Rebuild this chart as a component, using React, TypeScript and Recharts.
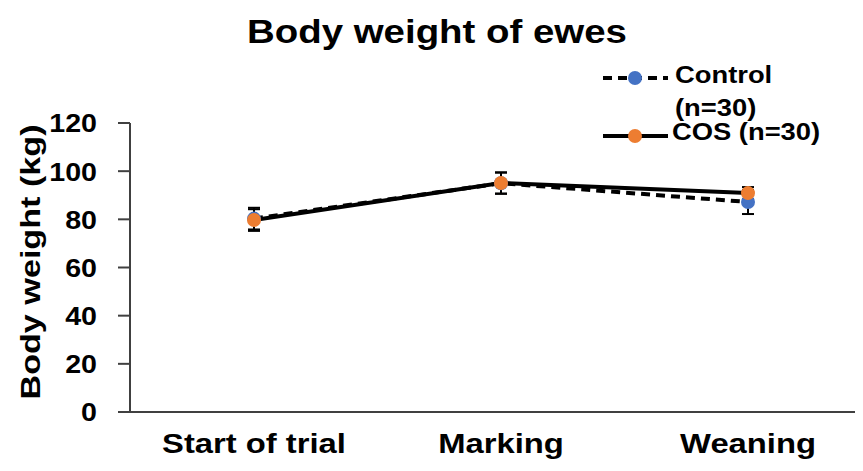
import { ErrorBar, Legend, Line, LineChart, XAxis, YAxis } from "recharts";

const categories = ["Start of trial", "Marking", "Weaning"];
const controlValues = [80.3, 95, 87.2];
const controlErrors = [4.5, 4.4, 5];
const cosValues = [79.7, 95.1, 90.9];
const cosErrors = [4.5, 4.4, 2.5];
const yTicks = [0, 20, 40, 60, 80, 100, 120];
const seriesNames = ["Control (n=30)", "COS (n=30)"];
const legendLabels = [["Control", "(n=30)"], ["COS (n=30)"]];

const data = categories.map((name, i) => ({
  name,
  control: controlValues[i],
  controlErr: controlErrors[i],
  cos: cosValues[i],
  cosErr: cosErrors[i],
}));

const FONT = "'Liberation Sans', Arial, sans-serif";

function XTick(props: any) {
  const { x, y, payload } = props;
  return (
    <text
      transform={`translate(${x},${y + 41}) scale(1.17,1)`}
      textAnchor="middle"
      fontFamily={FONT}
      fontWeight="bold"
      fontSize={28}
      fill="#000"
    >
      {payload.value}
    </text>
  );
}

function YTick(props: any) {
  const { x, y, payload } = props;
  return (
    <text
      transform={`translate(${x},${y}) scale(1.1,1)`}
      textAnchor="end"
      dy="0.36em"
      fontFamily={FONT}
      fontWeight="bold"
      fontSize={26}
      fill="#000"
    >
      {payload.value}
    </text>
  );
}

function YLabel() {
  return (
    <text
      transform="translate(40,262) rotate(-90) scale(1.22,1)"
      textAnchor="middle"
      fontFamily={FONT}
      fontWeight="bold"
      fontSize={28}
      fill="#000"
    >
      Body weight (kg)
    </text>
  );
}

function LegendContent(props: any) {
  const items = props.payload || [];
  const rows = [
    { lineY: 20, textY: [25, 58] },
    { lineY: 78, textY: [82] },
  ];
  return (
    <svg width={270} height={100} style={{ display: "block" }}>
      {items.map((item: any) => {
        const i = seriesNames.indexOf(item.value);
        const row = rows[i];
        if (!row) return null;
        const color = item.payload?.dot?.fill ?? item.color;
        return (
          <g key={item.value}>
            <line
              x1={13}
              x2={78}
              y1={row.lineY}
              y2={row.lineY}
              stroke="#000"
              strokeWidth={4}
              strokeDasharray={item.payload?.strokeDasharray}
            />
            <circle cx={45} cy={row.lineY} r={7} fill={color} />
            {legendLabels[i].map((t, j) => (
              <text
                key={j}
                transform={`translate(${i === 0 ? 85 : 82},${row.textY[j]}) scale(1.14,1)`}
                fontFamily={FONT}
                fontWeight="bold"
                fontSize={24}
                fill="#000"
              >
                {t}
              </text>
            ))}
          </g>
        );
      })}
    </svg>
  );
}

export default function App() {
  return (
    <div
      style={{
        position: "relative",
        width: 863,
        height: 471,
        margin: -8,
        overflow: "hidden",
        background: "#fff",
      }}
    >
      <div
        style={{
          position: "absolute",
          left: 0,
          width: 874,
          top: 13,
          textAlign: "center",
          fontFamily: FONT,
          fontWeight: "bold",
          fontSize: 34,
          lineHeight: "36px",
          transform: "scaleX(1.13)",
          color: "#000",
        }}
      >
        Body weight of ewes
      </div>
      <LineChart
        width={880}
        height={471}
        data={data}
        margin={{ top: 123, right: 8, bottom: 0, left: 0 }}
        style={{ position: "absolute", left: 0, top: 0 }}
      >
        <XAxis
          dataKey="name"
          height={59}
          padding={{ left: 124, right: 124 }}
          tickLine={false}
          tickSize={0}
          tickMargin={0}
          axisLine={{ stroke: "#404040", strokeWidth: 2 }}
          tick={<XTick />}
          interval={0}
        />
        <YAxis
          width={130}
          domain={[0, 120]}
          ticks={yTicks}
          tickSize={12}
          tickMargin={21}
          axisLine={{ stroke: "#404040", strokeWidth: 2 }}
          tickLine={{ stroke: "#404040", strokeWidth: 2 }}
          tick={<YTick />}
          label={<YLabel />}
        />
        <Legend
          layout="horizontal"
          verticalAlign="middle"
          align="center"
          content={<LegendContent />}
          wrapperStyle={{ left: 590, top: 58, width: 270, height: 100 }}
        />
        <Line
          dataKey="control"
          name={seriesNames[0]}
          stroke="#000"
          strokeWidth={4}
          strokeDasharray="9 6"
          dot={{ r: 7, fill: "#4472C4", stroke: "none" }}
          activeDot={false}
          isAnimationActive={false}
        >
          <ErrorBar dataKey="controlErr" width={6} stroke="#000" strokeWidth={2} />
        </Line>
        <Line
          dataKey="cos"
          name={seriesNames[1]}
          stroke="#000"
          strokeWidth={4}
          dot={{ r: 7, fill: "#ED7D31", stroke: "none" }}
          activeDot={false}
          isAnimationActive={false}
        >
          <ErrorBar dataKey="cosErr" width={6} stroke="#000" strokeWidth={2} />
        </Line>
      </LineChart>
    </div>
  );
}
